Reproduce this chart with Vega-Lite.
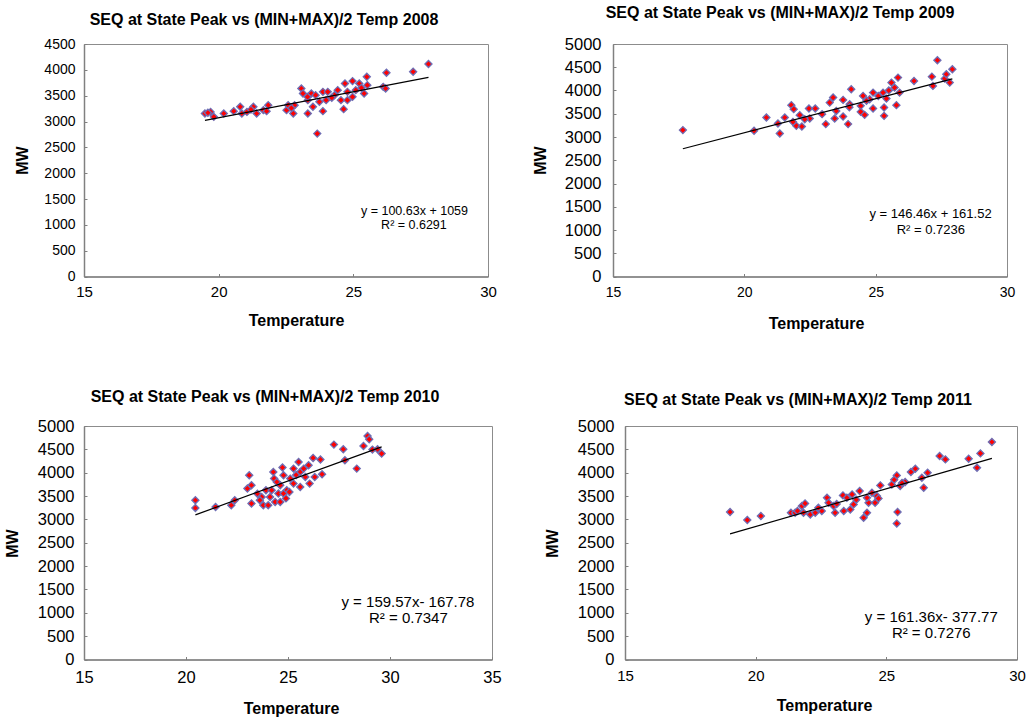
{
  "$schema": "https://vega.github.io/schema/vega-lite/v6.json",
  "background": "white",
  "padding": {"left": 3, "top": 4, "right": 0, "bottom": 0},
  "config": {
    "font": "Liberation Sans",
    "view": {"stroke": "#8c8c8c", "strokeWidth": 1},
    "axis": {"grid": false, "domainColor": "#808080", "domainWidth": 1.5, "tickColor": "#808080", "tickSize": -3, "labelColor": "black", "labelFlush": false, "labelOverlap": false, "labelBound": false, "titleColor": "black", "titleFontSize": 16, "titleFontWeight": "bold", "titleBaseline": "middle", "titleAlign": "center", "format": "d"},
    "title": {"fontSize": 16, "fontWeight": "bold", "color": "black", "frame": "group", "anchor": "middle", "baseline": "middle"}
  },
  "datasets": {
    "p2008": [
      {"temp": 19.49, "mw": 3154}, {"temp": 19.70, "mw": 3186}, {"temp": 19.82, "mw": 3090}, {"temp": 20.19, "mw": 3154}, {"temp": 20.56, "mw": 3200}, {"temp": 20.80, "mw": 3284}, {"temp": 20.86, "mw": 3154}, {"temp": 21.05, "mw": 3186}, {"temp": 21.29, "mw": 3284}, {"temp": 21.41, "mw": 3154}, {"temp": 21.66, "mw": 3220}, {"temp": 21.84, "mw": 3316}, {"temp": 21.78, "mw": 3200}, {"temp": 22.52, "mw": 3220}, {"temp": 22.58, "mw": 3316}, {"temp": 22.77, "mw": 3154}, {"temp": 22.82, "mw": 3316}, {"temp": 23.07, "mw": 3639}, {"temp": 23.13, "mw": 3542}, {"temp": 23.31, "mw": 3413}, {"temp": 23.31, "mw": 3154}, {"temp": 23.50, "mw": 3284}, {"temp": 23.44, "mw": 3542}, {"temp": 23.66, "mw": 2766}, {"temp": 23.74, "mw": 3381}, {"temp": 23.87, "mw": 3574}, {"temp": 23.87, "mw": 3200}, {"temp": 23.99, "mw": 3413}, {"temp": 24.05, "mw": 3574}, {"temp": 24.30, "mw": 3510}, {"temp": 24.42, "mw": 3607}, {"temp": 24.54, "mw": 3413}, {"temp": 24.64, "mw": 3239}, {"temp": 24.69, "mw": 3735}, {"temp": 24.78, "mw": 3574}, {"temp": 24.97, "mw": 3782}, {"temp": 24.97, "mw": 3477}, {"temp": 25.09, "mw": 3607}, {"temp": 25.22, "mw": 3735}, {"temp": 25.40, "mw": 3542}, {"temp": 25.52, "mw": 3704}, {"temp": 25.50, "mw": 3865}, {"temp": 26.11, "mw": 3671}, {"temp": 26.23, "mw": 3943}, {"temp": 26.20, "mw": 3639}, {"temp": 27.22, "mw": 3962}, {"temp": 27.79, "mw": 4112}, {"temp": 24.78, "mw": 3413}, {"temp": 23.30, "mw": 3477}, {"temp": 23.60, "mw": 3510}, {"temp": 19.60, "mw": 3170}, {"temp": 21.20, "mw": 3230}, {"temp": 22.70, "mw": 3260}, {"temp": 24.20, "mw": 3460}, {"temp": 25.30, "mw": 3650}
    ],
    "p2009": [
      {"temp": 17.66, "mw": 3148}, {"temp": 20.37, "mw": 3133}, {"temp": 20.84, "mw": 3419}, {"temp": 21.35, "mw": 3076}, {"temp": 21.28, "mw": 3290}, {"temp": 21.54, "mw": 3419}, {"temp": 21.79, "mw": 3685}, {"temp": 21.88, "mw": 3599}, {"temp": 21.85, "mw": 3326}, {"temp": 21.98, "mw": 3240}, {"temp": 22.11, "mw": 3470}, {"temp": 22.19, "mw": 3225}, {"temp": 22.46, "mw": 3612}, {"temp": 22.49, "mw": 3397}, {"temp": 22.70, "mw": 3612}, {"temp": 22.96, "mw": 3491}, {"temp": 23.10, "mw": 3277}, {"temp": 23.25, "mw": 3740}, {"temp": 23.38, "mw": 3848}, {"temp": 23.44, "mw": 3397}, {"temp": 23.76, "mw": 3798}, {"temp": 23.76, "mw": 3440}, {"temp": 23.95, "mw": 3277}, {"temp": 24.01, "mw": 3706}, {"temp": 24.07, "mw": 4028}, {"temp": 24.43, "mw": 3670}, {"temp": 24.43, "mw": 3541}, {"temp": 24.52, "mw": 3884}, {"temp": 24.58, "mw": 3476}, {"temp": 24.77, "mw": 3813}, {"temp": 24.90, "mw": 3612}, {"temp": 24.90, "mw": 3955}, {"temp": 25.28, "mw": 3955}, {"temp": 25.32, "mw": 3633}, {"temp": 25.32, "mw": 3455}, {"temp": 25.41, "mw": 3826}, {"temp": 25.60, "mw": 4170}, {"temp": 25.79, "mw": 3685}, {"temp": 25.85, "mw": 4277}, {"temp": 25.91, "mw": 3955}, {"temp": 25.72, "mw": 4062}, {"temp": 26.46, "mw": 4206}, {"temp": 27.14, "mw": 4298}, {"temp": 27.18, "mw": 4099}, {"temp": 27.35, "mw": 4650}, {"temp": 27.63, "mw": 4255}, {"temp": 27.82, "mw": 4170}, {"temp": 27.69, "mw": 4350}, {"temp": 27.92, "mw": 4457}, {"temp": 25.50, "mw": 4000}, {"temp": 24.65, "mw": 3780}, {"temp": 23.50, "mw": 3560}, {"temp": 24.00, "mw": 3640}, {"temp": 25.10, "mw": 3880}, {"temp": 22.30, "mw": 3380}
    ],
    "p2010": [
      {"temp": 20.46, "mw": 3410}, {"temp": 20.46, "mw": 3245}, {"temp": 21.45, "mw": 3267}, {"temp": 22.22, "mw": 3303}, {"temp": 22.39, "mw": 3410}, {"temp": 23.10, "mw": 3945}, {"temp": 23.01, "mw": 3660}, {"temp": 23.21, "mw": 3731}, {"temp": 23.21, "mw": 3339}, {"temp": 23.79, "mw": 3303}, {"temp": 23.71, "mw": 3481}, {"temp": 23.92, "mw": 3624}, {"temp": 24.12, "mw": 3481}, {"temp": 24.28, "mw": 4016}, {"temp": 24.37, "mw": 3374}, {"temp": 24.32, "mw": 3874}, {"temp": 24.53, "mw": 3553}, {"temp": 24.62, "mw": 3731}, {"temp": 24.73, "mw": 4110}, {"temp": 24.78, "mw": 3945}, {"temp": 24.62, "mw": 3374}, {"temp": 24.94, "mw": 3624}, {"temp": 25.07, "mw": 3588}, {"temp": 25.11, "mw": 3874}, {"temp": 25.27, "mw": 3767}, {"temp": 25.52, "mw": 4230}, {"temp": 25.60, "mw": 4016}, {"temp": 25.60, "mw": 3695}, {"temp": 25.85, "mw": 3908}, {"temp": 26.01, "mw": 4159}, {"temp": 26.06, "mw": 3767}, {"temp": 26.23, "mw": 4316}, {"temp": 26.31, "mw": 3908}, {"temp": 26.59, "mw": 4281}, {"temp": 26.67, "mw": 3966}, {"temp": 27.25, "mw": 4602}, {"temp": 27.71, "mw": 4502}, {"temp": 27.79, "mw": 4266}, {"temp": 28.37, "mw": 4088}, {"temp": 28.70, "mw": 4572}, {"temp": 28.90, "mw": 4786}, {"temp": 28.98, "mw": 4715}, {"temp": 29.14, "mw": 4495}, {"temp": 29.39, "mw": 4502}, {"temp": 29.59, "mw": 4409}, {"temp": 23.62, "mw": 3410}, {"temp": 24.03, "mw": 3303}, {"temp": 24.20, "mw": 3624}, {"temp": 24.78, "mw": 3553}, {"temp": 25.27, "mw": 4088}, {"temp": 25.77, "mw": 4088}, {"temp": 24.45, "mw": 3800}, {"temp": 25.40, "mw": 3950}, {"temp": 24.90, "mw": 3450}, {"temp": 23.50, "mw": 3550}
    ],
    "p2011": [
      {"temp": 19.02, "mw": 3158}, {"temp": 19.68, "mw": 2986}, {"temp": 20.20, "mw": 3072}, {"temp": 21.35, "mw": 3143}, {"temp": 21.51, "mw": 3143}, {"temp": 21.77, "mw": 3286}, {"temp": 21.83, "mw": 3143}, {"temp": 21.89, "mw": 3342}, {"temp": 22.09, "mw": 3106}, {"temp": 22.28, "mw": 3143}, {"temp": 22.53, "mw": 3179}, {"temp": 22.73, "mw": 3464}, {"temp": 22.79, "mw": 3357}, {"temp": 23.04, "mw": 3143}, {"temp": 22.98, "mw": 3286}, {"temp": 23.34, "mw": 3514}, {"temp": 23.37, "mw": 3179}, {"temp": 23.49, "mw": 3464}, {"temp": 23.62, "mw": 3213}, {"temp": 23.69, "mw": 3535}, {"temp": 23.75, "mw": 3321}, {"temp": 23.98, "mw": 3607}, {"temp": 24.13, "mw": 3035}, {"temp": 24.26, "mw": 3143}, {"temp": 24.32, "mw": 3357}, {"temp": 24.45, "mw": 3571}, {"temp": 24.57, "mw": 3357}, {"temp": 24.64, "mw": 3500}, {"temp": 24.77, "mw": 3728}, {"temp": 25.21, "mw": 3749}, {"temp": 25.40, "mw": 3942}, {"temp": 25.43, "mw": 3158}, {"temp": 25.40, "mw": 2913}, {"temp": 25.53, "mw": 3714}, {"temp": 25.72, "mw": 3800}, {"temp": 25.94, "mw": 4014}, {"temp": 26.11, "mw": 4085}, {"temp": 26.36, "mw": 3892}, {"temp": 26.43, "mw": 3678}, {"temp": 26.58, "mw": 4000}, {"temp": 27.04, "mw": 4357}, {"temp": 27.26, "mw": 4285}, {"temp": 28.15, "mw": 4300}, {"temp": 28.47, "mw": 4107}, {"temp": 28.60, "mw": 4413}, {"temp": 29.04, "mw": 4657}, {"temp": 21.60, "mw": 3180}, {"temp": 22.40, "mw": 3250}, {"temp": 23.10, "mw": 3330}, {"temp": 24.26, "mw": 3464}, {"temp": 25.30, "mw": 3850}, {"temp": 25.60, "mw": 3780}, {"temp": 24.70, "mw": 3450}, {"temp": 23.85, "mw": 3420}
    ],
    "t2008": [{"temp": 19.49, "mw": 3020.3}, {"temp": 27.79, "mw": 3855.5}],
    "t2009": [{"temp": 17.66, "mw": 2748.0}, {"temp": 27.92, "mw": 4250.7}],
    "t2010": [{"temp": 20.46, "mw": 3097.0}, {"temp": 29.59, "mw": 4553.9}],
    "t2011": [{"temp": 19.02, "mw": 2691.3}, {"temp": 29.04, "mw": 4308.1}],
    "eq2008": [{"l1": "y = 100.63x + 1059", "l2": "R² = 0.6291"}],
    "eq2009": [{"l1": "y = 146.46x + 161.52", "l2": "R² = 0.7236"}],
    "eq2010": [{"l1": "y = 159.57x- 167.78", "l2": "R² = 0.7347"}],
    "eq2011": [{"l1": "y = 161.36x- 377.77", "l2": "R² = 0.7276"}]
  },
  "vconcat": [
    {
      "hconcat": [
        {
          "width": 404, "height": 232.5,
          "title": {"text": "SEQ at State Peak vs (MIN+MAX)/2 Temp 2008", "offset": 1.5, "dx": -22, "frame": "group", "baseline": "middle"},
          "layer": [
            {
              "data": {"name": "p2008"},
              "mark": {"type": "point", "shape": "diamond", "filled": true, "fill": "#ff0000", "stroke": "#6e6eb4", "strokeWidth": 1.3, "size": 50, "opacity": 1},
              "encoding": {
                "x": {"field": "temp", "type": "quantitative", "scale": {"domain": [15, 30], "nice": false, "zero": false},
                  "axis": {"values": [15, 20, 25, 30], "format": "d", "labelOverlap": false, "labelFontSize": 15, "labelPadding": 11, "title": "Temperature", "titleX": 212, "titleY": 44}},
                "y": {"field": "mw", "type": "quantitative", "scale": {"domain": [0, 4500], "nice": false},
                  "axis": {"values": [0, 500, 1000, 1500, 2000, 2500, 3000, 3500, 4000, 4500], "format": "d", "labelOverlap": false, "labelFontSize": 14, "labelPadding": 12, "title": "MW", "titleX": -62, "titleY": 116}}
              }
            },
            {
              "data": {"name": "t2008"},
              "mark": {"type": "line", "color": "black", "strokeWidth": 1.2},
              "encoding": {
                "x": {"field": "temp", "type": "quantitative", "scale": {"domain": [15, 30], "nice": false, "zero": false},
                  "axis": {"values": [15, 20, 25, 30], "format": "d", "labelOverlap": false, "labelFontSize": 15, "labelPadding": 11, "title": "Temperature", "titleX": 212, "titleY": 44}},
                "y": {"field": "mw", "type": "quantitative", "scale": {"domain": [0, 4500], "nice": false},
                  "axis": {"values": [0, 500, 1000, 1500, 2000, 2500, 3000, 3500, 4000, 4500], "format": "d", "labelOverlap": false, "labelFontSize": 14, "labelPadding": 12, "title": "MW", "titleX": -62, "titleY": 116}}
              }
            },
            {
              "data": {"name": "eq2008"},
              "mark": {"type": "text", "fontSize": 12.5, "align": "center", "baseline": "middle", "color": "black"},
              "encoding": {
                "x": {"datum": 27.27, "type": "quantitative", "scale": {"domain": [15, 30], "nice": false, "zero": false},
                  "axis": {"values": [15, 20, 25, 30], "format": "d", "labelOverlap": false, "labelFontSize": 15, "labelPadding": 11, "title": "Temperature", "titleX": 212, "titleY": 44}},
                "y": {"datum": 1261, "type": "quantitative", "scale": {"domain": [0, 4500], "nice": false},
                  "axis": {"values": [0, 500, 1000, 1500, 2000, 2500, 3000, 3500, 4000, 4500], "format": "d", "labelOverlap": false, "labelFontSize": 14, "labelPadding": 12, "title": "MW", "titleX": -62, "titleY": 116}},
                "text": {"field": "l1"}
              }
            },
            {
              "data": {"name": "eq2008"},
              "mark": {"type": "text", "fontSize": 12.5, "align": "center", "baseline": "middle", "color": "black"},
              "encoding": {
                "x": {"datum": 27.25, "type": "quantitative", "scale": {"domain": [15, 30], "nice": false, "zero": false},
                  "axis": {"values": [15, 20, 25, 30], "format": "d", "labelOverlap": false, "labelFontSize": 15, "labelPadding": 11, "title": "Temperature", "titleX": 212, "titleY": 44}},
                "y": {"datum": 989, "type": "quantitative", "scale": {"domain": [0, 4500], "nice": false},
                  "axis": {"values": [0, 500, 1000, 1500, 2000, 2500, 3000, 3500, 4000, 4500], "format": "d", "labelOverlap": false, "labelFontSize": 14, "labelPadding": 12, "title": "MW", "titleX": -62, "titleY": 116}},
                "text": {"field": "l2"}
              }
            }
          ]
        },
        {
          "width": 394, "height": 232.5,
          "title": {"text": "SEQ at State Peak vs (MIN+MAX)/2 Temp 2009", "offset": 7, "dx": -30, "frame": "group", "baseline": "middle"},
          "layer": [
            {
              "data": {"name": "p2009"},
              "mark": {"type": "point", "shape": "diamond", "filled": true, "fill": "#ff0000", "stroke": "#6e6eb4", "strokeWidth": 1.3, "size": 50, "opacity": 1},
              "encoding": {
                "x": {"field": "temp", "type": "quantitative", "scale": {"domain": [15, 30], "nice": false, "zero": false},
                  "axis": {"values": [15, 20, 25, 30], "format": "d", "labelOverlap": false, "labelFontSize": 14, "labelPadding": 11.5, "title": "Temperature", "titleX": 203, "titleY": 47}},
                "y": {"field": "mw", "type": "quantitative", "scale": {"domain": [0, 5000], "nice": false},
                  "axis": {"values": [0, 500, 1000, 1500, 2000, 2500, 3000, 3500, 4000, 4500, 5000], "format": "d", "labelOverlap": false, "labelFontSize": 16.5, "labelPadding": 15, "title": "MW", "titleX": -73, "titleY": 116}}
              }
            },
            {
              "data": {"name": "t2009"},
              "mark": {"type": "line", "color": "black", "strokeWidth": 1.2},
              "encoding": {
                "x": {"field": "temp", "type": "quantitative", "scale": {"domain": [15, 30], "nice": false, "zero": false},
                  "axis": {"values": [15, 20, 25, 30], "format": "d", "labelOverlap": false, "labelFontSize": 14, "labelPadding": 11.5, "title": "Temperature", "titleX": 203, "titleY": 47}},
                "y": {"field": "mw", "type": "quantitative", "scale": {"domain": [0, 5000], "nice": false},
                  "axis": {"values": [0, 500, 1000, 1500, 2000, 2500, 3000, 3500, 4000, 4500, 5000], "format": "d", "labelOverlap": false, "labelFontSize": 16.5, "labelPadding": 15, "title": "MW", "titleX": -73, "titleY": 116}}
              }
            },
            {
              "data": {"name": "eq2009"},
              "mark": {"type": "text", "fontSize": 13, "align": "center", "baseline": "middle", "color": "black"},
              "encoding": {
                "x": {"datum": 27.09, "type": "quantitative", "scale": {"domain": [15, 30], "nice": false, "zero": false},
                  "axis": {"values": [15, 20, 25, 30], "format": "d", "labelOverlap": false, "labelFontSize": 14, "labelPadding": 11.5, "title": "Temperature", "titleX": 203, "titleY": 47}},
                "y": {"datum": 1352, "type": "quantitative", "scale": {"domain": [0, 5000], "nice": false},
                  "axis": {"values": [0, 500, 1000, 1500, 2000, 2500, 3000, 3500, 4000, 4500, 5000], "format": "d", "labelOverlap": false, "labelFontSize": 16.5, "labelPadding": 15, "title": "MW", "titleX": -73, "titleY": 116}},
                "text": {"field": "l1"}
              }
            },
            {
              "data": {"name": "eq2009"},
              "mark": {"type": "text", "fontSize": 13, "align": "center", "baseline": "middle", "color": "black"},
              "encoding": {
                "x": {"datum": 27.1, "type": "quantitative", "scale": {"domain": [15, 30], "nice": false, "zero": false},
                  "axis": {"values": [15, 20, 25, 30], "format": "d", "labelOverlap": false, "labelFontSize": 14, "labelPadding": 11.5, "title": "Temperature", "titleX": 203, "titleY": 47}},
                "y": {"datum": 1009, "type": "quantitative", "scale": {"domain": [0, 5000], "nice": false},
                  "axis": {"values": [0, 500, 1000, 1500, 2000, 2500, 3000, 3500, 4000, 4500, 5000], "format": "d", "labelOverlap": false, "labelFontSize": 16.5, "labelPadding": 15, "title": "MW", "titleX": -73, "titleY": 116}},
                "text": {"field": "l2"}
              }
            }
          ]
        }
      ],
      "spacing": 125,
      "bounds": "flush"
    },
    {
      "hconcat": [
        {
          "width": 408, "height": 233.5,
          "title": {"text": "SEQ at State Peak vs (MIN+MAX)/2 Temp 2010", "offset": 5, "dx": -23, "frame": "group", "baseline": "middle"},
          "layer": [
            {
              "data": {"name": "p2010"},
              "mark": {"type": "point", "shape": "diamond", "filled": true, "fill": "#ff0000", "stroke": "#6e6eb4", "strokeWidth": 1.3, "size": 50, "opacity": 1},
              "encoding": {
                "x": {"field": "temp", "type": "quantitative", "scale": {"domain": [15, 35], "nice": false, "zero": false},
                  "axis": {"values": [15, 20, 25, 30, 35], "format": "d", "labelOverlap": false, "labelFontSize": 16.5, "labelPadding": 13, "title": "Temperature", "titleX": 207, "titleY": 49}},
                "y": {"field": "mw", "type": "quantitative", "scale": {"domain": [0, 5000], "nice": false},
                  "axis": {"values": [0, 500, 1000, 1500, 2000, 2500, 3000, 3500, 4000, 4500, 5000], "format": "d", "labelOverlap": false, "labelFontSize": 16.5, "labelPadding": 13, "title": "MW", "titleX": -72, "titleY": 117}}
              }
            },
            {
              "data": {"name": "t2010"},
              "mark": {"type": "line", "color": "black", "strokeWidth": 1.2},
              "encoding": {
                "x": {"field": "temp", "type": "quantitative", "scale": {"domain": [15, 35], "nice": false, "zero": false},
                  "axis": {"values": [15, 20, 25, 30, 35], "format": "d", "labelOverlap": false, "labelFontSize": 16.5, "labelPadding": 13, "title": "Temperature", "titleX": 207, "titleY": 49}},
                "y": {"field": "mw", "type": "quantitative", "scale": {"domain": [0, 5000], "nice": false},
                  "axis": {"values": [0, 500, 1000, 1500, 2000, 2500, 3000, 3500, 4000, 4500, 5000], "format": "d", "labelOverlap": false, "labelFontSize": 16.5, "labelPadding": 13, "title": "MW", "titleX": -72, "titleY": 117}}
              }
            },
            {
              "data": {"name": "eq2010"},
              "mark": {"type": "text", "fontSize": 15, "align": "center", "baseline": "middle", "color": "black"},
              "encoding": {
                "x": {"datum": 30.88, "type": "quantitative", "scale": {"domain": [15, 35], "nice": false, "zero": false},
                  "axis": {"values": [15, 20, 25, 30, 35], "format": "d", "labelOverlap": false, "labelFontSize": 16.5, "labelPadding": 13, "title": "Temperature", "titleX": 207, "titleY": 49}},
                "y": {"datum": 1233, "type": "quantitative", "scale": {"domain": [0, 5000], "nice": false},
                  "axis": {"values": [0, 500, 1000, 1500, 2000, 2500, 3000, 3500, 4000, 4500, 5000], "format": "d", "labelOverlap": false, "labelFontSize": 16.5, "labelPadding": 13, "title": "MW", "titleX": -72, "titleY": 117}},
                "text": {"field": "l1"}
              }
            },
            {
              "data": {"name": "eq2010"},
              "mark": {"type": "text", "fontSize": 15, "align": "center", "baseline": "middle", "color": "black"},
              "encoding": {
                "x": {"datum": 30.9, "type": "quantitative", "scale": {"domain": [15, 35], "nice": false, "zero": false},
                  "axis": {"values": [15, 20, 25, 30, 35], "format": "d", "labelOverlap": false, "labelFontSize": 16.5, "labelPadding": 13, "title": "Temperature", "titleX": 207, "titleY": 49}},
                "y": {"datum": 898, "type": "quantitative", "scale": {"domain": [0, 5000], "nice": false},
                  "axis": {"values": [0, 500, 1000, 1500, 2000, 2500, 3000, 3500, 4000, 4500, 5000], "format": "d", "labelOverlap": false, "labelFontSize": 16.5, "labelPadding": 13, "title": "MW", "titleX": -72, "titleY": 117}},
                "text": {"field": "l2"}
              }
            }
          ]
        },
        {
          "width": 392, "height": 233.5,
          "title": {"text": "SEQ at State Peak vs (MIN+MAX)/2 Temp 2011", "offset": 2, "dx": -23, "frame": "group", "baseline": "middle"},
          "layer": [
            {
              "data": {"name": "p2011"},
              "mark": {"type": "point", "shape": "diamond", "filled": true, "fill": "#ff0000", "stroke": "#6e6eb4", "strokeWidth": 1.3, "size": 50, "opacity": 1},
              "encoding": {
                "x": {"field": "temp", "type": "quantitative", "scale": {"domain": [15, 30], "nice": false, "zero": false},
                  "axis": {"values": [15, 20, 25, 30], "format": "d", "labelOverlap": false, "labelFontSize": 15, "labelPadding": 12, "title": "Temperature", "titleX": 199, "titleY": 46}},
                "y": {"field": "mw", "type": "quantitative", "scale": {"domain": [0, 5000], "nice": false},
                  "axis": {"values": [0, 500, 1000, 1500, 2000, 2500, 3000, 3500, 4000, 4500, 5000], "format": "d", "labelOverlap": false, "labelFontSize": 16.5, "labelPadding": 14, "title": "MW", "titleX": -73, "titleY": 117}}
              }
            },
            {
              "data": {"name": "t2011"},
              "mark": {"type": "line", "color": "black", "strokeWidth": 1.2},
              "encoding": {
                "x": {"field": "temp", "type": "quantitative", "scale": {"domain": [15, 30], "nice": false, "zero": false},
                  "axis": {"values": [15, 20, 25, 30], "format": "d", "labelOverlap": false, "labelFontSize": 15, "labelPadding": 12, "title": "Temperature", "titleX": 199, "titleY": 46}},
                "y": {"field": "mw", "type": "quantitative", "scale": {"domain": [0, 5000], "nice": false},
                  "axis": {"values": [0, 500, 1000, 1500, 2000, 2500, 3000, 3500, 4000, 4500, 5000], "format": "d", "labelOverlap": false, "labelFontSize": 16.5, "labelPadding": 14, "title": "MW", "titleX": -73, "titleY": 117}}
              }
            },
            {
              "data": {"name": "eq2011"},
              "mark": {"type": "text", "fontSize": 15, "align": "center", "baseline": "middle", "color": "black"},
              "encoding": {
                "x": {"datum": 26.72, "type": "quantitative", "scale": {"domain": [15, 30], "nice": false, "zero": false},
                  "axis": {"values": [15, 20, 25, 30], "format": "d", "labelOverlap": false, "labelFontSize": 15, "labelPadding": 12, "title": "Temperature", "titleX": 199, "titleY": 46}},
                "y": {"datum": 908, "type": "quantitative", "scale": {"domain": [0, 5000], "nice": false},
                  "axis": {"values": [0, 500, 1000, 1500, 2000, 2500, 3000, 3500, 4000, 4500, 5000], "format": "d", "labelOverlap": false, "labelFontSize": 16.5, "labelPadding": 14, "title": "MW", "titleX": -73, "titleY": 117}},
                "text": {"field": "l1"}
              }
            },
            {
              "data": {"name": "eq2011"},
              "mark": {"type": "text", "fontSize": 15, "align": "center", "baseline": "middle", "color": "black"},
              "encoding": {
                "x": {"datum": 26.72, "type": "quantitative", "scale": {"domain": [15, 30], "nice": false, "zero": false},
                  "axis": {"values": [15, 20, 25, 30], "format": "d", "labelOverlap": false, "labelFontSize": 15, "labelPadding": 12, "title": "Temperature", "titleX": 199, "titleY": 46}},
                "y": {"datum": 572, "type": "quantitative", "scale": {"domain": [0, 5000], "nice": false},
                  "axis": {"values": [0, 500, 1000, 1500, 2000, 2500, 3000, 3500, 4000, 4500, 5000], "format": "d", "labelOverlap": false, "labelFontSize": 16.5, "labelPadding": 14, "title": "MW", "titleX": -73, "titleY": 117}},
                "text": {"field": "l2"}
              }
            }
          ]
        }
      ],
      "spacing": 133,
      "bounds": "flush"
    }
  ],
  "spacing": 56
}
